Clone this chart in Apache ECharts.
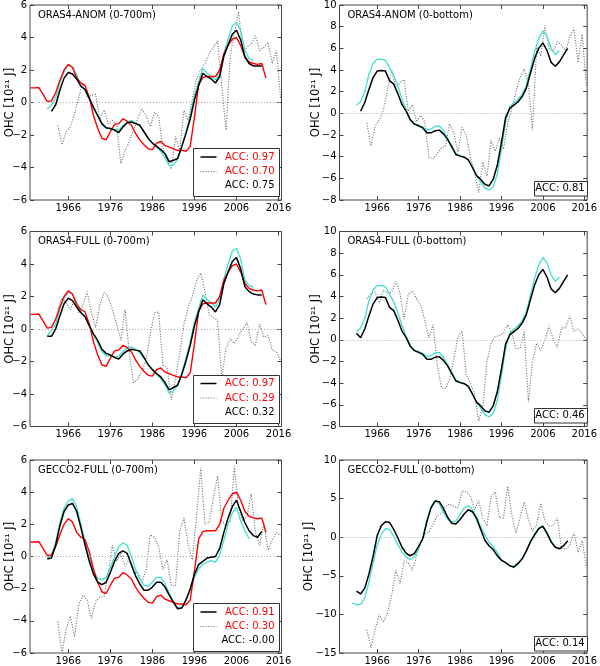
<!DOCTYPE html>
<html><head><meta charset="utf-8">
<script src="https://cdn.jsdelivr.net/npm/echarts@6/dist/echarts.min.js"></script>
<style>html,body{margin:0;padding:0;background:#fff}#c{width:600px;height:666px}</style>
</head><body><div id="c"></div>
<script>
// ---------------- DATA ----------------
const xTickYears = [1966, 1976, 1986, 1996, 2006, 2016];

// observations (red), 0-700m, annual from 1957
const obsRedStart = 1957;
const obsRed = [0.90,0.90,0.92,0.50,0.05,0.10,0.60,1.35,2.00,2.35,
  2.15,1.50,1.20,1.05,0.30,-0.80,-1.60,-2.20,-2.30,-1.80,
  -1.35,-1.30,-1.00,-1.15,-1.40,-1.90,-2.30,-2.60,-2.85,-2.90,
  -2.50,-2.40,-2.65,-2.75,-2.85,-2.95,-2.95,-3.00,-2.70,-0.90,
  1.10,1.55,1.60,1.60,1.60,2.00,3.00,3.50,3.90,4.00,
  3.50,2.80,2.50,2.40,2.35,2.40,1.50];

// forecast (dotted) series are mid-year values from 1963.5
const dottedStart = 1963.5;

// ORAS4-ANOM 0-700m
const anomUpperBlackStart = 1962;
const anomUpperBlack = [-0.55,-0.15,0.75,1.5,1.85,1.75,1.45,1.0,0.8,0.25,
  -0.3,-0.8,-1.3,-1.55,-1.6,-1.7,-1.85,-1.5,-1.25,-1.2,
  -1.3,-1.4,-1.8,-2.2,-2.5,-2.7,-2.9,-3.15,-3.65,-3.55,
  -3.45,-2.7,-1.9,-1.0,0.15,1.05,1.8,1.6,1.45,1.2,
  1.6,2.85,3.55,4.2,4.45,3.85,2.8,2.4,2.25,2.25,2.25];
const anomUpperCyanStart = 1961;
const anomUpperCyan = [-0.4,-0.15,0.3,1.2,1.9,2.3,2.2,1.7,1.05,0.75,
  0.2,-0.35,-0.85,-1.35,-1.6,-1.6,-1.65,-1.7,-1.45,-1.2,
  -1.1,-1.25,-1.4,-1.8,-2.2,-2.5,-2.75,-3.0,-3.4,-3.9,
  -3.85,-3.5,-2.7,-1.8,-0.8,0.4,1.3,2.1,1.8,1.6,
  1.4,1.8,3.0,3.9,4.7,4.95,4.4,3.2,2.7,2.6];
const anomUpperDotted = [-1.4,-2.6,-1.8,-1.5,-0.7,0.35,1.2,0.3,0.45,0.5,
  -1.0,-0.45,-1.3,-1.1,-1.4,-3.75,-3.0,-2.4,-1.7,-1.0,
  -0.4,-0.8,-1.5,-0.6,-0.9,-2.8,-3.5,-4.1,-2.1,-3.0,
  -0.5,-1.1,0.2,1.5,2.0,2.4,3.0,3.4,3.8,1.0,
  -1.7,2.8,4.3,5.6,3.1,3.4,3.6,4.1,3.2,3.4,
  3.7,2.4,3.2,0.2];

// ORAS4-ANOM 0-bottom
const anomTotalBlackStart = 1962;
const anomTotalBlack = [0.2,1.0,2.2,3.3,3.9,3.95,3.9,3.0,2.7,1.8,
  0.8,0.2,-0.6,-1.0,-1.15,-1.35,-1.8,-1.8,-1.6,-1.55,
  -1.9,-2.4,-3.1,-3.8,-3.95,-4.05,-4.3,-5.0,-5.75,-6.1,
  -6.55,-6.7,-6.1,-4.8,-2.7,-0.4,0.45,0.75,1.05,1.55,
  2.3,3.7,5.05,6.0,6.5,5.8,4.7,4.35,4.75,5.4,6.0];
const anomTotalCyanStart = 1961;
const anomTotalCyan = [0.75,1.1,1.95,3.6,4.6,5.0,5.0,4.9,4.2,3.5,
  2.5,1.3,0.3,-0.6,-0.95,-1.1,-1.25,-1.55,-1.45,-1.2,
  -1.15,-1.6,-2.3,-3.0,-3.7,-3.9,-4.0,-4.3,-5.0,-5.8,
  -6.3,-6.9,-7.1,-6.8,-5.6,-3.3,-0.8,0.6,0.95,1.3,
  1.75,2.6,4.1,5.7,6.9,7.6,7.1,6.0,5.4,5.8];
const anomTotalDotted = [-0.9,-3.0,-1.2,-0.6,0.3,2.2,3.9,2.4,2.8,3.1,
  0.2,0.8,-0.8,-0.2,-0.8,-4.1,-4.2,-3.7,-3.2,-3.0,
  -0.95,-1.8,-3.6,-1.3,-2.0,-4.0,-5.5,-7.3,-4.5,-5.8,
  -2.5,-3.5,-2.3,-3.3,-0.9,0.4,2.0,3.3,4.1,2.7,
  -1.5,6.1,5.3,8.1,6.0,5.7,6.6,6.3,5.8,7.0,
  7.9,4.7,7.3,2.5];

// ORAS4-FULL 0-700m
const fullUpperBlackStart = 1961;
const fullUpperBlack = [-0.45,-0.45,0.0,0.8,1.55,1.9,1.75,1.35,1.0,0.75,
  0.2,-0.3,-0.7,-1.25,-1.5,-1.6,-1.75,-1.85,-1.55,-1.35,
  -1.25,-1.3,-1.35,-1.75,-2.2,-2.5,-2.75,-2.95,-3.3,-3.75,
  -3.6,-3.45,-2.8,-1.95,-1.0,0.2,1.05,1.8,1.55,1.35,
  1.05,1.5,2.8,3.5,4.15,4.4,3.7,2.6,2.3,2.15,2.1,2.1];
const fullUpperCyanStart = 1961;
const fullUpperCyan = [-0.4,-0.1,0.3,1.2,1.9,2.25,2.15,1.65,1.05,0.75,
  0.2,-0.35,-0.85,-1.4,-1.65,-1.65,-1.75,-1.65,-1.4,-1.15,
  -1.1,-1.25,-1.45,-1.8,-2.2,-2.5,-2.8,-3.05,-3.45,-3.95,
  -3.8,-3.5,-2.7,-1.8,-0.8,0.4,1.3,2.1,1.8,1.6,
  1.35,1.8,3.1,4.0,4.8,4.95,4.3,3.0,2.65,2.6];
const fullUpperDotted = [1.2,1.9,1.6,1.2,1.8,1.0,1.5,2.3,1.0,0.1,
  1.5,2.25,2.0,1.2,0.3,-0.7,1.2,-1.5,-3.3,-3.1,
  -2.6,-1.9,-0.3,1.0,1.05,-2.2,-2.4,-4.35,-3.0,-1.5,
  0.3,1.3,2.0,3.0,3.45,2.3,0.9,0.7,0.5,-3.0,
  -1.2,-0.6,-0.9,-0.4,0.0,0.4,-0.8,-1.0,0.3,-0.5,
  -0.4,-1.3,-1.4,-2.0];

// ORAS4-FULL 0-bottom
const fullTotalBlackStart = 1961;
const fullTotalBlack = [0.6,0.2,1.0,2.2,3.3,3.9,3.95,3.9,3.0,2.7,
  1.8,0.8,0.2,-0.6,-1.0,-1.15,-1.35,-1.8,-1.8,-1.6,
  -1.55,-1.9,-2.4,-3.1,-3.8,-3.95,-4.05,-4.3,-5.0,-5.75,
  -6.1,-6.55,-6.7,-6.1,-4.8,-2.7,-0.4,0.45,0.75,1.05,
  1.55,2.3,3.7,5.05,6.0,6.5,5.8,4.7,4.35,4.75,5.4,6.0];
const fullTotalCyanStart = 1961;
const fullTotalCyan = [0.75,1.1,1.95,3.6,4.6,5.0,5.0,4.9,4.2,3.5,
  2.5,1.3,0.3,-0.6,-0.95,-1.1,-1.25,-1.55,-1.45,-1.2,
  -1.15,-1.6,-2.3,-3.0,-3.7,-3.9,-4.0,-4.3,-5.0,-5.8,
  -6.3,-6.9,-7.1,-6.8,-5.6,-3.3,-0.8,0.6,0.95,1.3,
  1.75,2.6,4.1,5.7,6.9,7.6,7.1,6.0,5.4,5.8];
const fullTotalDotted = [3.8,4.3,4.4,3.4,4.6,4.3,4.4,5.4,4.3,1.9,
  4.2,4.5,3.8,3.2,1.8,0.2,1.4,-2.3,-4.4,-4.5,
  -3.6,-1.8,0.2,0.8,-3.2,-4.0,-5.0,-7.5,-6.2,-2.0,
  -0.3,0.3,0.4,0.6,1.4,0.6,-0.8,-0.8,0.7,-5.7,
  -2.0,-0.3,-1.0,0.0,1.3,0.0,-0.7,1.1,1.1,2.2,
  0.8,1.0,0.6,0.0];

// GECCO2-FULL 0-700m
const geccoUpperBlackStart = 1961;
const geccoUpperBlack = [-0.15,-0.1,0.7,1.9,2.8,3.2,3.3,2.8,1.8,0.7,
  -0.3,-1.1,-1.6,-1.75,-1.6,-1.0,-0.3,0.2,0.35,0.2,
  -0.5,-1.2,-1.7,-2.1,-2.1,-1.9,-1.6,-1.6,-1.9,-2.4,
  -2.85,-3.25,-3.2,-2.7,-2.0,-1.1,-0.5,-0.3,-0.1,-0.05,
  0.0,0.5,1.5,2.4,3.1,3.5,2.8,2.1,1.6,1.3,1.2,1.55];
const geccoUpperCyanStart = 1961;
const geccoUpperCyan = [-0.1,0.05,0.9,2.1,3.0,3.45,3.6,3.1,2.0,0.9,
  -0.1,-0.9,-1.35,-1.45,-1.3,-0.7,0.0,0.6,0.85,0.7,
  0.0,-0.8,-1.4,-1.8,-1.85,-1.6,-1.3,-1.3,-1.7,-2.25,
  -2.8,-3.2,-3.2,-2.7,-2.1,-1.3,-0.75,-0.5,-0.35,-0.25,
  -0.35,0.1,1.0,2.0,2.7,3.05,2.2,1.6,1.1];
const geccoUpperDotted = [-4.05,-6.0,-4.5,-3.7,-5.0,-3.0,-2.4,-2.7,-3.85,-2.8,
  -2.5,-2.5,-1.0,0.7,-0.3,0.2,-0.6,-0.2,-1.0,-1.0,
  -1.6,-0.8,1.35,1.2,0.6,-0.8,-0.2,-1.8,-1.8,1.6,
  2.4,0.7,-0.2,2.5,5.5,2.0,2.1,3.6,5.0,2.2,
  1.9,2.2,5.6,3.0,2.2,2.5,3.9,1.5,0.7,2.1,
  0.4,1.0,1.5,1.3];

// GECCO2-FULL 0-bottom
const geccoTotalBlackStart = 1961;
const geccoTotalBlack = [-7.0,-7.35,-6.6,-4.8,-2.5,0.2,1.5,2.0,1.9,1.0,
  -0.1,-1.3,-2.1,-2.4,-2.1,-1.2,-0.2,2.0,3.8,4.7,
  4.6,3.7,2.6,1.8,1.7,2.3,3.0,3.55,3.3,2.4,
  1.0,-0.4,-1.1,-1.6,-2.4,-3.0,-3.3,-3.7,-3.85,-3.4,
  -2.8,-1.8,-0.6,0.3,1.1,1.4,0.5,-0.6,-1.3,-1.5,
  -1.1,-0.45];
const geccoTotalCyanStart = 1960;
const geccoTotalCyan = [-8.5,-8.75,-8.7,-7.9,-5.8,-3.4,-1.0,0.4,1.1,1.0,
  0.1,-1.0,-1.9,-2.6,-2.9,-2.5,-1.5,-0.1,2.2,4.0,
  4.75,4.3,3.2,2.3,1.95,2.1,3.0,3.8,4.1,3.6,
  2.6,1.4,0.3,-0.6,-1.2,-2.0,-2.9,-3.3,-3.7,-3.95,
  -3.5,-2.8,-1.8,-0.6,0.4,1.2,1.5,0.6,-0.5,-1.3,
  -1.45];
const geccoTotalDotted = [-12.0,-14.3,-12.0,-10.0,-11.0,-9.8,-7.5,-4.3,-6.0,-3.1,
  -3.3,-4.3,-2.4,-0.7,0.4,0.7,1.65,2.8,3.1,4.0,
  4.3,4.0,3.8,6.0,5.9,5.35,3.55,4.75,2.5,1.45,
  5.25,5.9,2.5,2.5,6.6,2.9,0.5,2.5,4.6,2.3,
  0.8,1.65,4.4,2.1,1.45,1.45,2.5,-1.45,-1.6,-1.0,
  0.6,-1.95,-0.45,-3.85];

// panel titles, y ranges and ACC labels
const panelTitles = ['ORAS4-ANOM (0-700m)','ORAS4-ANOM (0-bottom)',
  'ORAS4-FULL (0-700m)','ORAS4-FULL (0-bottom)',
  'GECCO2-FULL (0-700m)','GECCO2-FULL (0-bottom)'];
const yRanges = [[-6,6,2],[-8,10,2],[-6,6,2],[-8,10,2],[-6,6,2],[-15,10,5]];
const accUpper = [['0.97','0.70','0.75'],['0.97','0.29','0.32'],['0.91','0.30','-0.00']];
const accTotal = ['0.81','0.46','0.14'];

// ---------------- CHART ----------------
const FONT = '"DejaVu Sans", sans-serif';
const X_MIN = 1956.9, X_MAX = 2016.7;
const colX = [30, 339.5], colW = [251.5, 252];
const rowY = [5, 231.5, 460], rowH = 195;
const FRAME = '#444';
const CYAN = '#40e0d0';

const panelSeries = [
  {black:[anomUpperBlackStart, anomUpperBlack], cyan:[anomUpperCyanStart, anomUpperCyan], dotted:anomUpperDotted, red:true},
  {black:[anomTotalBlackStart, anomTotalBlack], cyan:[anomTotalCyanStart, anomTotalCyan], dotted:anomTotalDotted, red:false},
  {black:[fullUpperBlackStart, fullUpperBlack], cyan:[fullUpperCyanStart, fullUpperCyan], dotted:fullUpperDotted, red:true},
  {black:[fullTotalBlackStart, fullTotalBlack], cyan:[fullTotalCyanStart, fullTotalCyan], dotted:fullTotalDotted, red:false},
  {black:[geccoUpperBlackStart, geccoUpperBlack], cyan:[geccoUpperCyanStart, geccoUpperCyan], dotted:geccoUpperDotted, red:true},
  {black:[geccoTotalBlackStart, geccoTotalBlack], cyan:[geccoTotalCyanStart, geccoTotalCyan], dotted:geccoTotalDotted, red:false}
];

function pairs(start, vals) { return vals.map((v, i) => [start + i, v]); }
const minusFmt = v => (v < 0 ? '\u2212' : '') + Math.abs(v);
const yearFmt = v => String(Math.round(v));

const grids = [], xAxes = [], yAxes = [], series = [], graphics = [];

const txt = (s, x, y, fill, align) => ({type: 'text', z: 101, silent: true,
  style: {text: s, x: x, y: y, fill: fill, font: '10px ' + FONT,
    align: align, textAlign: align, verticalAlign: 'middle', textVerticalAlign: 'middle'}});

for (let p = 0; p < 6; p++) {
  const r = Math.floor(p / 2), c = p % 2;
  const L = colX[c], T = rowY[r], W = colW[c], H = rowH;
  const R = L + W, B = T + H;
  grids.push({left: L, top: T, width: W, height: H, show: true, borderColor: FRAME, borderWidth: 1, backgroundColor: 'transparent'});
  const tickStyle = {inside: true, length: 4, lineStyle: {color: FRAME, width: 1}};
  const noLine = {show: false, onZero: false};
  xAxes.push({type: 'value', gridIndex: p, min: X_MIN, max: X_MAX, position: 'bottom',
    axisLine: noLine, splitLine: {show: false},
    axisTick: Object.assign({customValues: xTickYears}, tickStyle),
    axisLabel: {customValues: xTickYears, formatter: yearFmt, margin: 3, fontSize: 10, color: '#000', fontFamily: FONT}});
  xAxes.push({type: 'value', gridIndex: p, min: X_MIN, max: X_MAX, position: 'top',
    axisLine: noLine, splitLine: {show: false},
    axisTick: Object.assign({customValues: xTickYears}, tickStyle),
    axisLabel: {show: false}});
  const yr = yRanges[p];
  const nameGap = c === 0 ? 14 : (p === 5 ? 24 : 17);
  yAxes.push({type: 'value', gridIndex: p, min: yr[0], max: yr[1], interval: yr[2], position: 'left',
    axisLine: noLine, splitLine: {show: false}, axisTick: tickStyle,
    axisLabel: {formatter: minusFmt, margin: 3, fontSize: 10, color: '#000', fontFamily: FONT},
    name: 'OHC [10\u00b2\u00b9 J]', nameLocation: 'middle', nameRotate: 90, nameGap: nameGap,
    nameMoveOverlap: false,
    nameTextStyle: {fontSize: 11.5, color: '#000', fontFamily: FONT}});
  yAxes.push({type: 'value', gridIndex: p, min: yr[0], max: yr[1], interval: yr[2], position: 'right',
    axisLine: noLine, splitLine: {show: false}, axisTick: tickStyle, axisLabel: {show: false}});

  const xi = 2 * p, yi = 2 * p;
  const ps = panelSeries[p];
  series.push({type: 'line', xAxisIndex: xi, yAxisIndex: yi, data: pairs(dottedStart, ps.dotted),
    showSymbol: false, symbol: 'none', z: 2,
    lineStyle: {color: '#666', width: 1.1, type: [1, 1.6]},
    markLine: {silent: true, symbol: ['none', 'none'], label: {show: false}, animation: false,
      lineStyle: {color: '#aaa', type: [1, 2], width: 1}, data: [{yAxis: 0}]}});
  series.push({type: 'line', xAxisIndex: xi, yAxisIndex: yi, data: pairs(ps.cyan[0], ps.cyan[1]),
    showSymbol: false, symbol: 'none', z: 3, lineStyle: {color: CYAN, width: 1.3}});
  if (ps.red) {
    series.push({type: 'line', xAxisIndex: xi, yAxisIndex: yi, data: pairs(obsRedStart, obsRed),
      showSymbol: false, symbol: 'none', z: 4, lineStyle: {color: '#ff0000', width: 1.4}});
  }
  series.push({type: 'line', xAxisIndex: xi, yAxisIndex: yi, data: pairs(ps.black[0], ps.black[1]),
    showSymbol: false, symbol: 'none', z: 5, lineStyle: {color: '#000', width: 1.5}});

  // panel title inside the plot
  graphics.push(txt(panelTitles[p], L + 8, T + 10, '#000', 'left'));

  if (c === 0) {
    const acc = accUpper[r];
    graphics.push({type: 'rect', z: 100, silent: true,
      shape: {x: Math.round(R - 88.5) + 0.5, y: Math.round(B - 52) + 0.5, width: 86, height: 48},
      style: {fill: '#fff', stroke: '#333', lineWidth: 1}});
    graphics.push({type: 'line', z: 101, silent: true,
      shape: {x1: R - 81, y1: B - 43, x2: R - 65, y2: B - 43}, style: {stroke: '#000', lineWidth: 1.5}});
    graphics.push({type: 'line', z: 101, silent: true,
      shape: {x1: R - 81, y1: B - 28.5, x2: R - 65, y2: B - 28.5}, style: {stroke: '#666', lineWidth: 1.1, lineDash: [1, 1.6]}});
    graphics.push(txt('ACC: ' + acc[0], R - 7, B - 43, '#ff0000', 'right'));
    graphics.push(txt('ACC: ' + acc[1], R - 7, B - 28.5, '#ff0000', 'right'));
    graphics.push(txt('ACC: ' + acc[2], R - 7, B - 14.5, '#000', 'right'));
  } else {
    graphics.push({type: 'rect', z: 100, silent: true,
      shape: {x: Math.round(R - 58) + 0.5, y: Math.round(B - 19) + 0.5, width: 53, height: 14.5},
      style: {fill: '#fff', stroke: '#333', lineWidth: 1}});
    graphics.push(txt('ACC: ' + accTotal[r], R - 31.5, B - 11.5, '#000', 'center'));
  }
}

const chart = echarts.init(document.getElementById('c'), null, {renderer: 'canvas'});
chart.setOption({
  animation: false,
  backgroundColor: '#fff',
  textStyle: {fontFamily: FONT},
  grid: grids,
  xAxis: xAxes,
  yAxis: yAxes,
  series: series,
  graphic: {elements: graphics}
});
</script></body></html>
